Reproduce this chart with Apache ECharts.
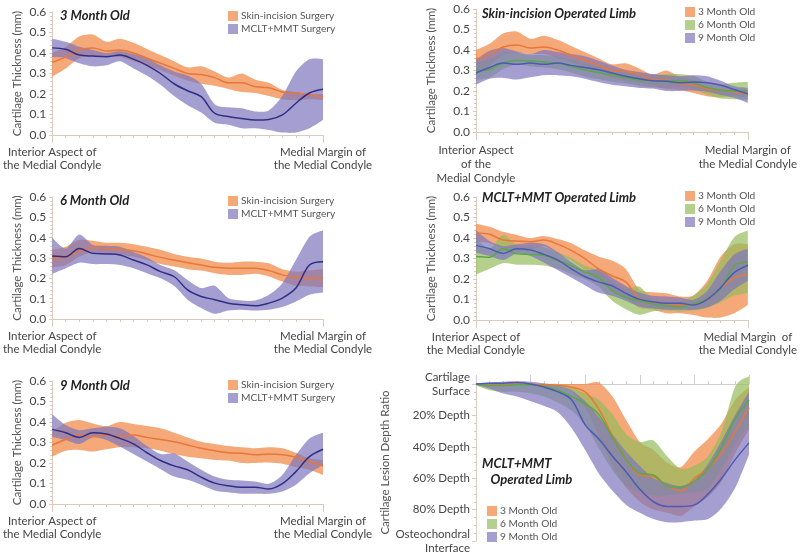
<!DOCTYPE html>
<html><head><meta charset="utf-8">
<script src="https://cdn.jsdelivr.net/npm/echarts@6/dist/echarts.min.js"></script>
<style>html,body{margin:0;padding:0;background:#fff}#c{width:800px;height:558px}</style>
</head><body><div id="c"></div>
<script>
// sample positions along the condyle (0 = interior aspect, 20 = medial margin)
const POS = [0,1,2,3,4,5,6,7,8,9,10,11,12,13,14,15,16,17,18,19,20];

// Skin-incision surgery, cartilage thickness (mm): mean, lower, upper
const skin3Mean = [0.355,0.38,0.415,0.425,0.41,0.415,0.40,0.375,0.35,0.325,0.30,0.295,0.28,0.255,0.255,0.235,0.23,0.21,0.205,0.195,0.187];
const skin3Low  = [0.285,0.325,0.375,0.385,0.38,0.38,0.36,0.34,0.315,0.29,0.265,0.25,0.24,0.225,0.21,0.205,0.19,0.175,0.17,0.175,0.17];
const skin3High = [0.40,0.43,0.48,0.49,0.455,0.47,0.45,0.42,0.39,0.36,0.33,0.335,0.31,0.28,0.30,0.27,0.255,0.22,0.21,0.20,0.20];

const skin6Mean = [0.30,0.305,0.335,0.35,0.347,0.342,0.336,0.32,0.303,0.29,0.277,0.266,0.254,0.25,0.25,0.25,0.238,0.217,0.204,0.20,0.20];
const skin6Low  = [0.254,0.266,0.306,0.33,0.32,0.315,0.306,0.29,0.27,0.258,0.245,0.238,0.225,0.217,0.217,0.222,0.209,0.184,0.163,0.16,0.157];
const skin6High = [0.34,0.355,0.39,0.385,0.375,0.375,0.368,0.355,0.34,0.32,0.306,0.297,0.282,0.277,0.282,0.282,0.274,0.245,0.233,0.24,0.245];

const skin9Mean = [0.288,0.315,0.336,0.33,0.336,0.33,0.336,0.325,0.315,0.304,0.288,0.272,0.26,0.25,0.247,0.24,0.244,0.24,0.228,0.207,0.186];
const skin9Low  = [0.231,0.26,0.264,0.256,0.267,0.277,0.277,0.272,0.26,0.244,0.231,0.223,0.215,0.212,0.20,0.20,0.202,0.196,0.18,0.167,0.142];
const skin9High = [0.353,0.396,0.41,0.393,0.38,0.40,0.39,0.38,0.369,0.348,0.325,0.304,0.293,0.283,0.277,0.272,0.277,0.272,0.25,0.223,0.215];

// MCLT+MMT surgery, cartilage thickness (mm)
const mclt3Mean = [0.425,0.418,0.39,0.385,0.382,0.39,0.37,0.34,0.30,0.25,0.216,0.187,0.106,0.09,0.08,0.073,0.076,0.098,0.155,0.205,0.223];
const mclt3Low  = [0.38,0.375,0.35,0.335,0.34,0.36,0.325,0.29,0.245,0.19,0.145,0.11,0.06,0.05,0.033,0.033,0.025,0.012,0.012,0.033,0.073];
const mclt3High = [0.47,0.455,0.43,0.415,0.40,0.41,0.395,0.375,0.34,0.31,0.29,0.25,0.15,0.135,0.13,0.115,0.12,0.19,0.31,0.37,0.37];

const mclt6Mean = [0.31,0.306,0.347,0.323,0.32,0.315,0.29,0.266,0.233,0.209,0.143,0.111,0.095,0.078,0.07,0.065,0.078,0.103,0.152,0.266,0.282];
const mclt6Low  = [0.222,0.25,0.277,0.27,0.27,0.266,0.25,0.225,0.20,0.163,0.095,0.054,0.026,0.042,0.046,0.042,0.046,0.059,0.086,0.119,0.13];
const mclt6High = [0.40,0.347,0.416,0.364,0.36,0.355,0.33,0.303,0.266,0.241,0.192,0.152,0.163,0.103,0.091,0.091,0.119,0.176,0.29,0.404,0.437];

const mclt9Mean = [0.364,0.348,0.325,0.348,0.341,0.32,0.293,0.25,0.212,0.186,0.167,0.131,0.102,0.089,0.082,0.082,0.073,0.099,0.158,0.231,0.267];
const mclt9Low  = [0.328,0.312,0.293,0.325,0.312,0.28,0.244,0.207,0.17,0.134,0.118,0.094,0.066,0.057,0.05,0.05,0.05,0.061,0.094,0.15,0.19];
const mclt9High = [0.438,0.385,0.36,0.369,0.377,0.369,0.332,0.283,0.244,0.247,0.207,0.167,0.134,0.118,0.115,0.11,0.099,0.142,0.239,0.32,0.348];

// MCLT+MMT lesion depth (% of cartilage depth)
const depth3Mean = [0,0,0,0,0,0.5,1,2,5,16,33,48,58,59,65,68,60,54,44,30,15];
const depth3Low  = [0,0,0,0,0,0,0,0,0,-1,8,23,37,42,50,53,43,35,25,10,2];
const depth3High = [0,0,0.5,0.5,1,1,1,5,15,33,52,66,75,80,82,84,78,72,62,44,29];

const depth6Mean = [0,1,1,0.5,0.5,1.5,4,8,12.5,19.5,34,48,57,58,65,66,62,54,40,22,10];
const depth6Low  = [0,0,0,0,0,0,0,2,6,10,19.5,32,37,36,46,54,52,46,30,1.5,-5];
const depth6High = [1,4,5,5,6,8,12,17,26,41,55,65,69,71,71,70,69,67,54,39,26];

const depth9Mean = [0,-0.5,-0.5,-1,0,2,5,10,26,35,46,56,67,75,78,78,77,70,60,48,37.5];
const depth9Low  = [0,-1,-1.5,-1.7,-1.5,-0.5,1,4,11,21,32,43,52,60,63,65,61,51,36,19.5,5];
const depth9High = [0.5,3,6,8,11,14,18,28,42,57,68,77,82,86,88,88,87,86,79,66,45];

// text
const panelTitles = ['3 Month Old','Skin-incision Operated Limb','6 Month Old','MCLT+MMT Operated Limb','9 Month Old','MCLT+MMT\n   Operated Limb'];
const surgeryNames = ['Skin-incision Surgery','MCLT+MMT Surgery'];
const ageNames = ['3 Month Old','6 Month Old','9 Month Old'];
const startLabelA = 'Interior Aspect of\nthe Medial Condyle';
const startLabelB = 'Interior Aspect\nof the\nMedial Condyle';
const endLabelA = 'Medial Margin of\nthe Medial Condyle';
const endLabelB = 'Medial Margin  of\nthe Medial Condyle';
const thickTicks = ['0.0','0.1','0.2','0.3','0.4','0.5','0.6'];
const depthTicks = ['Cartilage\nSurface','20% Depth','40% Depth','60% Depth','80% Depth','Osteochondral\nInterface'];
const thickName = 'Cartilage Thickness (mm)';
const depthName = 'Cartilage Lesion Depth Ratio';

const FONT = "Lato, 'Open Sans', sans-serif";
const BAND = {orange:'rgba(241,131,62,0.7)', purple:'rgba(126,118,188,0.7)', green:'rgba(149,186,91,0.7)'};
const SWATCH = {orange:'#f5a878', purple:'#a59fd0', green:'#b5cf8c'};
const LINE = {orange:'#e8773a', navy:'#2f2e84', green:'#5aa846', blue:'#4a5bb5'};
const AX = '#dccbbd';

const grids = [
  {left:50, top:12, width:273, height:123},
  {left:476, top:9, width:273, height:123},
  {left:50, top:197, width:273, height:122},
  {left:476, top:197, width:273, height:123},
  {left:50, top:381, width:273, height:123},
  {left:476, top:384, width:273, height:157}
];

function pairs(arr){ return POS.map((p,i)=>[p, arr[i]]); }
// smooth path (Catmull-Rom -> cubic Bezier) through pixel points
function curve(pts, start){
  let d = start ? ('M' + pts[0][0] + ',' + pts[0][1]) : ('L' + pts[0][0] + ',' + pts[0][1]);
  const n = pts.length, t = 0.8;
  for (let i = 0; i < n - 1; i++) {
    const p0 = pts[Math.max(i-1,0)], p1 = pts[i], p2 = pts[i+1], p3 = pts[Math.min(i+2,n-1)];
    const c1 = [p1[0] + (p2[0]-p0[0])*t/6, p1[1] + (p2[1]-p0[1])*t/6];
    const c2 = [p2[0] - (p3[0]-p1[0])*t/6, p2[1] - (p3[1]-p1[1])*t/6];
    d += 'C' + c1[0] + ',' + c1[1] + ' ' + c2[0] + ',' + c2[1] + ' ' + p2[0] + ',' + p2[1];
  }
  return d;
}
function band(g, lo, hi, color, name){
  return {type:'custom', name:name, xAxisIndex:g, yAxisIndex:g, silent:true, z:2,
    itemStyle:{color:color},
    data:[[POS[0], lo[0]]],
    renderItem: function(params, api){
      const up = POS.map((p,i)=>api.coord([p, hi[i]]));
      const dn = POS.map((p,i)=>api.coord([p, lo[i]])).reverse();
      const d = curve(up, true) + curve(dn, false) + 'Z';
      return {type:'path', shape:{pathData:d}, style:{fill:color}};
    }};
}
let uid = 0;
function meanLine(g, arr, color, clip){
  return {type:'line', name:'_mean'+(uid++), xAxisIndex:g, yAxisIndex:g, data:pairs(arr), symbol:'none', smooth:0.35, lineStyle:{color:color, width:1.5}, itemStyle:{color:color}, silent:true, z:4, clip: clip!==false};
}

function thickX(g, startL, endL, lh){
  return {gridIndex:g, type:'value', min:0, max:20, interval:20,
    axisLine:{show:true, lineStyle:{color:AX, width:1}},
    axisTick:{show:true, length:8, lineStyle:{color:AX}},
    minorTick:{show:true, splitNumber:20, length:3, lineStyle:{color:AX}},
    splitLine:{show:false},
    axisLabel:{show:true, margin:11, color:'#444', fontFamily:FONT, fontSize:11.5, lineHeight:lh, align:'center',
      formatter: v => v===0 ? startL : (v===20 ? endL : '')}};
}
function thickY(g, gap){
  return {gridIndex:g, type:'value', min:0, max:0.6, interval:0.1,
    axisLine:{show:true, lineStyle:{color:AX}},
    axisTick:{show:true, length:3, lineStyle:{color:AX}},
    minorTick:{show:true, splitNumber:5, length:2, lineStyle:{color:AX}},
    splitLine:{show:false},
    axisLabel:{color:'#444', fontFamily:FONT, fontSize:12, margin:6, formatter: v => thickTicks[Math.round(v*10)]},
    name: thickName, nameLocation:'middle', nameGap:gap, nameRotate:90,
    nameTextStyle:{color:'#555', fontFamily:FONT, fontSize:11.5}};
}

const xAxis = [
  thickX(0, startLabelA, endLabelA, 13),
  thickX(1, startLabelB, endLabelA, 14),
  thickX(2, startLabelA, endLabelA, 13),
  thickX(3, startLabelA, endLabelB, 13),
  thickX(4, startLabelA, endLabelA, 13),
  {gridIndex:5, type:'value', min:0, max:20, interval:4, position:'top',
    axisLine:{show:true, lineStyle:{color:'#cfcfcf'}},
    axisTick:{show:true, length:9, lineStyle:{color:'#cfcfcf'}},
    minorTick:{show:true, splitNumber:4, length:3, lineStyle:{color:'#cfcfcf'}},
    splitLine:{show:false}, axisLabel:{show:false}}
];
const yAxis = [
  thickY(0, 29), thickY(1, 39), thickY(2, 29), thickY(3, 39), thickY(4, 29),
  {gridIndex:5, type:'value', min:0, max:100, interval:20, inverse:true,
    axisLine:{show:true, lineStyle:{color:AX}},
    axisTick:{show:true, length:4, lineStyle:{color:AX}},
    minorTick:{show:true, splitNumber:4, length:2, lineStyle:{color:AX}},
    splitLine:{show:false},
    axisLabel:{color:'#444', fontFamily:FONT, fontSize:11.5, lineHeight:14, margin:6, formatter: v => depthTicks[Math.round(v/20)]},
    name: depthName, nameLocation:'middle', nameGap:78, nameRotate:90,
    nameTextStyle:{color:'#555', fontFamily:FONT, fontSize:11.5}}
];

let series = [];
// panel 0: 3 month
series.push(band(0, skin3Low, skin3High, BAND.orange, surgeryNames[0]));
series.push(band(0, mclt3Low, mclt3High, BAND.purple, surgeryNames[1]));
series.push(meanLine(0, skin3Mean, LINE.orange), meanLine(0, mclt3Mean, LINE.navy));
// panel 2: 6 month
series.push(band(2, skin6Low, skin6High, BAND.orange, surgeryNames[0]));
series.push(band(2, mclt6Low, mclt6High, BAND.purple, surgeryNames[1]));
series.push(meanLine(2, skin6Mean, LINE.orange), meanLine(2, mclt6Mean, LINE.navy));
// panel 4: 9 month
series.push(band(4, skin9Low, skin9High, BAND.orange, surgeryNames[0]));
series.push(band(4, mclt9Low, mclt9High, BAND.purple, surgeryNames[1]));
series.push(meanLine(4, skin9Mean, LINE.orange), meanLine(4, mclt9Mean, LINE.navy));
// panel 1: skin-incision limb by age
series.push(band(1, skin3Low, skin3High, BAND.orange, ageNames[0]));
series.push(band(1, skin6Low, skin6High, BAND.green, ageNames[1]));
series.push(band(1, skin9Low, skin9High, BAND.purple, ageNames[2]));
series.push(meanLine(1, skin3Mean, LINE.orange), meanLine(1, skin6Mean, LINE.green), meanLine(1, skin9Mean, LINE.blue));
// panel 3: MCLT+MMT limb by age
series.push(band(3, mclt3Low, mclt3High, BAND.orange, ageNames[0]));
series.push(band(3, mclt6Low, mclt6High, BAND.green, ageNames[1]));
series.push(band(3, mclt9Low, mclt9High, BAND.purple, ageNames[2]));
series.push(meanLine(3, mclt3Mean, LINE.orange), meanLine(3, mclt6Mean, LINE.green), meanLine(3, mclt9Mean, LINE.blue));
// panel 5: lesion depth
series.push(band(5, depth3Low, depth3High, BAND.orange, ageNames[0]));
series.push(band(5, depth6Low, depth6High, BAND.green, ageNames[1]));
series.push(band(5, depth9Low, depth9High, BAND.purple, ageNames[2]));
series.push(meanLine(5, depth3Mean, LINE.orange, false), meanLine(5, depth6Mean, LINE.green, false), meanLine(5, depth9Mean, LINE.blue, false));

function legend(names, colors, left, top){
  return {orient:'vertical', left:left, top:top, itemWidth:10, itemHeight:10, itemGap:1, padding:0, selectedMode:false,
    textStyle:{color:'#555', fontFamily:FONT, fontSize:10.2, lineHeight:12, padding:[0,0,0,-2]},
    data: names.map((n,i)=>({name:n, icon:'rect', itemStyle:{color:colors[i], opacity:1}}))};
}
const swL = [SWATCH.orange, SWATCH.purple];
const swA = [SWATCH.orange, SWATCH.green, SWATCH.purple];
const legends = [
  legend(surgeryNames, swL, 228, 10),
  legend(surgeryNames, swL, 228, 195),
  legend(surgeryNames, swL, 228, 379),
  legend(ageNames, swA, 685, 6),
  legend(ageNames, swA, 685, 190),
  legend(ageNames, swA, 487, 505)
];

function title(text, left, top){
  return {text:text, left:left, top:top, padding:0,
    textStyle:{fontFamily:FONT, fontSize:13, fontStyle:'italic', fontWeight:'bold', color:'#222', lineHeight:16}};
}
const titles = [
  title(panelTitles[0], 60, 8),
  title(panelTitles[1], 482, 6),
  title(panelTitles[2], 60, 193),
  title(panelTitles[3], 482, 190),
  title(panelTitles[4], 60, 378),
  title(panelTitles[5], 482, 456)
];

const chart = echarts.init(document.getElementById('c'), null, {renderer:'canvas'});
chart.setOption({animation:false, backgroundColor:'#fff', title:titles, legend:legends, grid:grids, xAxis:xAxis, yAxis:yAxis, series:series});
</script></body></html>
